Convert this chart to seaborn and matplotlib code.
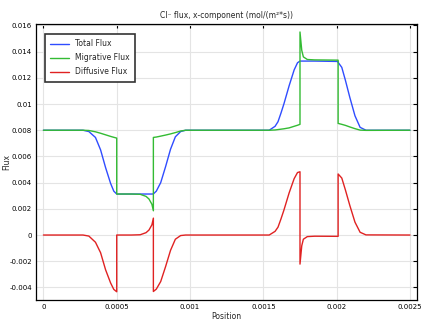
import matplotlib
matplotlib.use("Agg")
import matplotlib.pyplot as plt
import seaborn as sns
import pandas as pd
from matplotlib.ticker import FixedLocator, FuncFormatter

# ---- data ----
position = [0.0, 0.00027, 0.00031, 0.000355, 0.00039, 0.000424, 0.000458, 0.00048, 0.0005,
            0.0005, 0.0006, 0.00066, 0.0007, 0.00072, 0.00074, 0.00075,
            0.00075, 0.00077, 0.0008, 0.000833, 0.000867, 0.0009, 0.000936, 0.00097,
            0.00154, 0.00158, 0.0016, 0.00162, 0.00164, 0.001676, 0.00171, 0.001733, 0.00175,
            0.00175, 0.001762, 0.001773, 0.0018, 0.00185, 0.00201,
            0.00201, 0.002035, 0.00206, 0.00209, 0.002125, 0.00216, 0.0022, 0.0025]

total_flux = [0.0080, 0.0080, 0.00790, 0.00745, 0.00650, 0.00515, 0.00395, 0.00335, 0.00313,
              0.00313, 0.00313, 0.00313, 0.00313, 0.00313, 0.00313, 0.00314,
              0.00314, 0.00335, 0.00400, 0.00521, 0.00655, 0.00750, 0.00790, 0.0080,
              0.0080, 0.00830, 0.00865, 0.00930, 0.01000, 0.01140, 0.01260, 0.01315, 0.01328,
              0.01328, 0.01328, 0.01328, 0.01328, 0.01328, 0.01325,
              0.01318, 0.01280, 0.01180, 0.01050, 0.00910, 0.00822, 0.00800, 0.0080]

migrative_flux = [0.0080, 0.0080, 0.00798, 0.00788, 0.00777, 0.00765, 0.00753, 0.00746, 0.00740,
                  0.00313, 0.00313, 0.00311, 0.00295, 0.00275, 0.00235, 0.00185,
                  0.00745, 0.00748, 0.00755, 0.00763, 0.00772, 0.00782, 0.00794, 0.0080,
                  0.0080, 0.00802, 0.00805, 0.00808, 0.00811, 0.00818, 0.00830, 0.00838, 0.00845,
                  0.01550, 0.01410, 0.01360, 0.01340, 0.01337, 0.01335,
                  0.00852, 0.00845, 0.00837, 0.00825, 0.00812, 0.00801, 0.00799, 0.0080]

diffusive_flux = [0.0, 0.0, -0.00008, -0.00055, -0.00135, -0.00265, -0.00365, -0.00415, -0.00433,
                  0.0, 0.0, 0.00002, 0.00018, 0.00038, 0.00078, 0.00129,
                  -0.00431, -0.00413, -0.00355, -0.00242, -0.00117, -0.00032, -0.00004, 0.0,
                  0.0, 0.00028, 0.00060, 0.00122, 0.00189, 0.00322, 0.00430, 0.00477, 0.00483,
                  -0.00222, -0.00082, -0.00032, -0.00012, -0.00009, -0.0001,
                  0.00466, 0.00435, 0.00343, 0.00225, 0.00098, 0.00021, 0.00001, 0.0]

series_names = ["Total Flux", "Migrative Flux", "Diffusive Flux"]
series_colors = ["#2f4cff", "#33bb33", "#e02222"]
x_ticks = [0, 0.0005, 0.001, 0.0015, 0.002, 0.0025]
y_ticks = [-0.004, -0.002, 0, 0.002, 0.004, 0.006, 0.008, 0.01, 0.012, 0.014, 0.016]

sns.set_style("white")
plt.rcParams["font.family"] = ["DejaVu Sans"]

fig = plt.figure(figsize=(4.29, 3.23), dpi=100)
ax = fig.add_axes([36 / 429, 23 / 323, 381 / 429, 276 / 323])

for name, vals, col in zip(series_names, [total_flux, migrative_flux, diffusive_flux], series_colors):
    df = pd.DataFrame({"Position": position, "Flux": vals})
    sns.lineplot(data=df, x="Position", y="Flux", ax=ax, color=col, lw=1.0,
                 estimator=None, sort=False, label=name)

ax.set_xlim(-0.0000505, 0.002548)
ax.set_ylim(-0.00496, 0.01611)
ax.xaxis.set_major_locator(FixedLocator(x_ticks))
ax.yaxis.set_major_locator(FixedLocator(y_ticks))
fmt = FuncFormatter(lambda v, p: "0" if abs(v) < 1e-12 else ("%g" % v))
ax.xaxis.set_major_formatter(fmt)
ax.yaxis.set_major_formatter(fmt)

ax.grid(True, color="#e4e4e4", lw=0.8)
ax.set_axisbelow(True)
for s in ax.spines.values():
    s.set_color("black")
    s.set_linewidth(0.9)
ax.tick_params(direction="in", top=True, right=True, length=3, width=0.8,
               labelsize=5, pad=2.8, colors="black")

ax.set_xlabel("Position", fontsize=5.5, labelpad=1.5)
ax.set_ylabel("Flux", fontsize=5.5)
ax.yaxis.set_label_coords(-0.066, 0.5)
ax.set_title("Cl⁻ flux, x-component (mol/(m²*s))", fontsize=5.5, pad=4)

leg = ax.legend(loc="upper left", bbox_to_anchor=(0.0236, 0.9638), borderaxespad=0,
                fontsize=5.5, handlelength=2.5, handletextpad=0.7, labelspacing=0.65,
                borderpad=0.7, fancybox=False, framealpha=1, edgecolor="#333333")
leg.get_frame().set_linewidth(1.2)

fig.savefig("out.png", dpi=100)
